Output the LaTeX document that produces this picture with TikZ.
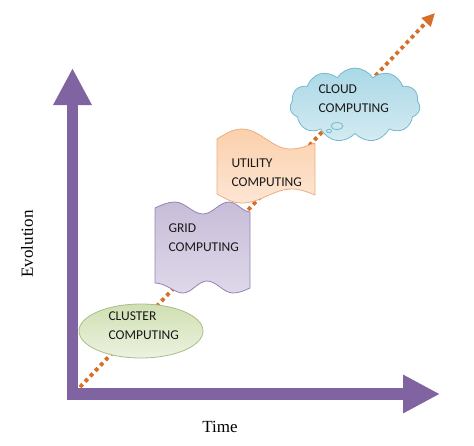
\documentclass[tikz,border=0pt]{standalone}
\usepackage{fontspec}
\setmainfont{Liberation Serif}
\newfontfamily\boxfont{Carlito}
\usetikzlibrary{arrows.meta,shapes.geometric,shapes.symbols}
\definecolor{axispurple}{RGB}{128,100,162}
\definecolor{trendorange}{RGB}{214,112,40}
\definecolor{clusterfill}{RGB}{208,224,178}
\definecolor{clustertop}{RGB}{236,242,224}
\definecolor{clusterline}{RGB}{168,190,138}
\definecolor{gridfill}{RGB}{200,189,216}
\definecolor{gridtop}{RGB}{222,216,234}
\definecolor{gridline}{RGB}{148,132,180}
\definecolor{utilfill}{RGB}{251,208,172}
\definecolor{utiltop}{RGB}{253,230,212}
\definecolor{utilline}{RGB}{236,174,128}
\definecolor{cloudfill}{RGB}{170,216,230}
\definecolor{cloudtop}{RGB}{212,235,242}
\definecolor{cloudline}{RGB}{118,184,206}

\begin{document}
\begin{tikzpicture}[line cap=round,line join=round,x=1pt,y=-1pt,
	axis/.style={draw=axispurple,line width=11.5pt,line cap=butt,line join=miter,{Triangle[length=37pt,width=36pt]}-{Triangle[length=37pt,width=36pt]}},
	trend/.style={draw=trendorange,line width=3.8pt,line cap=butt,dash pattern=on 3.8pt off 3.6pt,-{Triangle[length=13pt,width=12pt]}},
	boxtext/.style={anchor=west,align=left,text=black!90,font=\boxfont\fontsize{13.5}{19}\selectfont},
	axistext/.style={font=\fontsize{17}{20}\selectfont}]
			\useasboundingbox (0,0) rectangle (474,445);
			\coordinate (ytip) at (72.5,68);
			\coordinate (corner) at (72.5,394);
			\coordinate (xtip) at (440,394);
			\coordinate (start) at (80,387);
			\coordinate (end) at (435,13);
			\draw [axis] (ytip) -- (corner) -- (xtip);
			\draw [trend] (start) -- (end);
			\node [ellipse,draw=clusterline,line width=0.8pt,top color=clusterfill,bottom color=clustertop,minimum width=124pt,minimum height=54pt] (cluster) at (141,331) {};
			\draw [draw=gridline,line width=0.8pt,top color=gridfill,bottom color=gridtop] (155,208) sin (175,202) cos (189,208) sin (203,214) cos (216,208) sin (229,202) cos (241,208) sin (250,212) -- (250,288) sin (233,293) cos (220,287) sin (207,281) cos (195,287) sin (183,293) cos (170,288) sin (155,283) -- cycle;
			\draw [draw=utilline,line width=0.8pt,top color=utilfill,bottom color=utiltop] (217,139) sin (242,129) cos (266,139) sin (290,149) cos (315,143) -- (315,195) sin (292,189) cos (267,196) sin (242,203) cos (217,194) -- cycle;
			\node [cloud,cloud puffs=11,cloud puff arc=115,aspect=1.7,draw=cloudline,line width=0.8pt,top color=cloudfill,bottom color=cloudtop,minimum width=130pt,minimum height=74pt,inner sep=0pt] (cloud) at (355,105) {};
			\draw [cloudline,line width=0.8pt] (337,126) ellipse (6 and 3.5);
			\draw [cloudline,line width=0.8pt] (329,131) ellipse (2.5 and 1.8);
			\node [boxtext] (clustertext) at (105,326) {CLUSTER\\COMPUTING};
			\node [boxtext] (gridtext) at (165,238) {GRID\\COMPUTING};
			\node [boxtext] (utiltext) at (228,173) {UTILITY\\COMPUTING};
			\node [boxtext] (cloudtext) at (315,99) {CLOUD\\COMPUTING};
			\node [axistext] (time) at (220,427) {Time};
			\node [axistext,rotate=90] (evolution) at (27,244) {Evolution};
		\end{tikzpicture}
\end{document}
